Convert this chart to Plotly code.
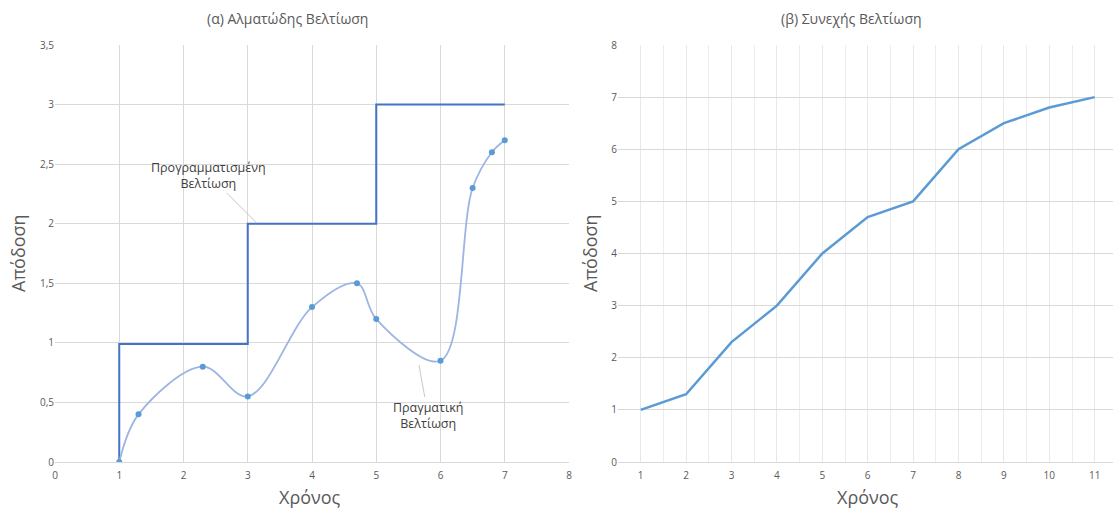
import plotly.graph_objects as go

# ---- data ----
step_x = [1, 1, 3, 3, 5, 5, 7]
step_y = [0, 0.99, 0.99, 2, 2, 3, 3]
actual_x = [1, 1.3, 2.3, 3, 4, 4.7, 5, 6, 6.5, 6.8, 7]
actual_y = [0, 0.4, 0.8, 0.55, 1.3, 1.5, 1.2, 0.85, 2.3, 2.6, 2.7]
cont_x = [1, 2, 3, 4, 5, 6, 7, 8, 9, 10, 11]
cont_y = [1, 1.3, 2.3, 3, 4, 4.7, 5, 6, 6.5, 6.8, 7]

title_a = "(α) Αλματώδης Βελτίωση"
title_b = "(β) Συνεχής Βελτίωση"
x_title = "Χρόνος"
y_title = "Απόδοση"
planned_label = "Προγραμματισμένη<br>Βελτίωση"
actual_label = "Πραγματική<br>Βελτίωση"

W, H = 1113, 509
FONT = "Open Sans"
GRID = "#d9d9d9"
TXT = "#595959"

fig = go.Figure()

fig.add_trace(go.Scatter(x=step_x, y=step_y, mode="lines",
                         line=dict(color="#4472c4", width=2),
                         xaxis="x", yaxis="y", showlegend=False))
fig.add_trace(go.Scatter(x=actual_x, y=actual_y, mode="lines+markers",
                         line=dict(color="#9db5e2", width=1.8, shape="spline", smoothing=1.0),
                         marker=dict(color="#5b9bd5", size=6),
                         xaxis="x", yaxis="y", showlegend=False))
fig.add_trace(go.Scatter(x=cont_x, y=cont_y, mode="lines",
                         line=dict(color="#5b9bd5", width=2.5),
                         xaxis="x2", yaxis="y2", showlegend=False))

y_dom = [(H - 462) / H, (H - 45) / H]

axis_common = dict(showline=False, zeroline=False, gridwidth=1,
                   tickfont=dict(family=FONT, size=10, color=TXT), ticks="",
                   automargin=False)

fig.update_layout(
    width=W, height=H,
    margin=dict(l=0, r=0, t=0, b=0),
    paper_bgcolor="white", plot_bgcolor="white",
    separators=",.",
    font=dict(family=FONT, color=TXT),
    xaxis=dict(domain=[55 / W, 569 / W], range=[0, 8], dtick=1, tick0=0,
               gridcolor=GRID, **axis_common),
    yaxis=dict(domain=y_dom, range=[0, 3.5], dtick=0.5, tick0=0,
               gridcolor=GRID, **axis_common),
    xaxis2=dict(domain=[618 / W, 1.0], range=[0.5, 0.5 + (W - 618) / 45.4],
                tickvals=cont_x, anchor="y2", gridcolor="#e8e8e8",
                minor=dict(dtick=0.5, tick0=0.5, showgrid=True, gridcolor="#ededed", ticks=""),
                **axis_common),
    yaxis2=dict(domain=y_dom, range=[0, 8], dtick=1, tick0=0, anchor="x2",
                gridcolor=GRID, **axis_common),
)

fig.update_xaxes(showline=True, linecolor=GRID, linewidth=1, ticklabelstandoff=4)

def paper_text(text, xpix, ypix, size, angle=0, color=TXT):
    fig.add_annotation(text=text, xref="paper", yref="paper", x=xpix / W, y=(H - ypix) / H,
                       showarrow=False, textangle=angle, xanchor="center", yanchor="middle",
                       font=dict(family=FONT, size=size, color=color))

paper_text(title_a, 287, 18, 14)
paper_text(title_b, 851, 18, 14)
paper_text(x_title, 310, 497, 18)
paper_text(x_title, 868, 497, 18)
paper_text(y_title, 18, 253, 18, angle=-90)
paper_text(y_title, 590, 253, 18, angle=-90)

fig.add_annotation(text=planned_label, x=3.14, y=2.006, xref="x", yref="y",
                   showarrow=True, arrowhead=0, arrowwidth=1, arrowcolor="#c8c8c8",
                   ax=-48, ay=-48, font=dict(family=FONT, size=12.5, color="#404040"))
fig.add_annotation(text=actual_label, x=5.665, y=0.814, xref="x", yref="y",
                   showarrow=True, arrowhead=0, arrowwidth=1, arrowcolor="#c8c8c8",
                   ax=9, ay=50, font=dict(family=FONT, size=12.5, color="#404040"))

fig.write_html("out.html",
               config={"displayModeBar": False},
               post_script="document.body.style.margin='0';document.body.style.overflow='hidden';")
